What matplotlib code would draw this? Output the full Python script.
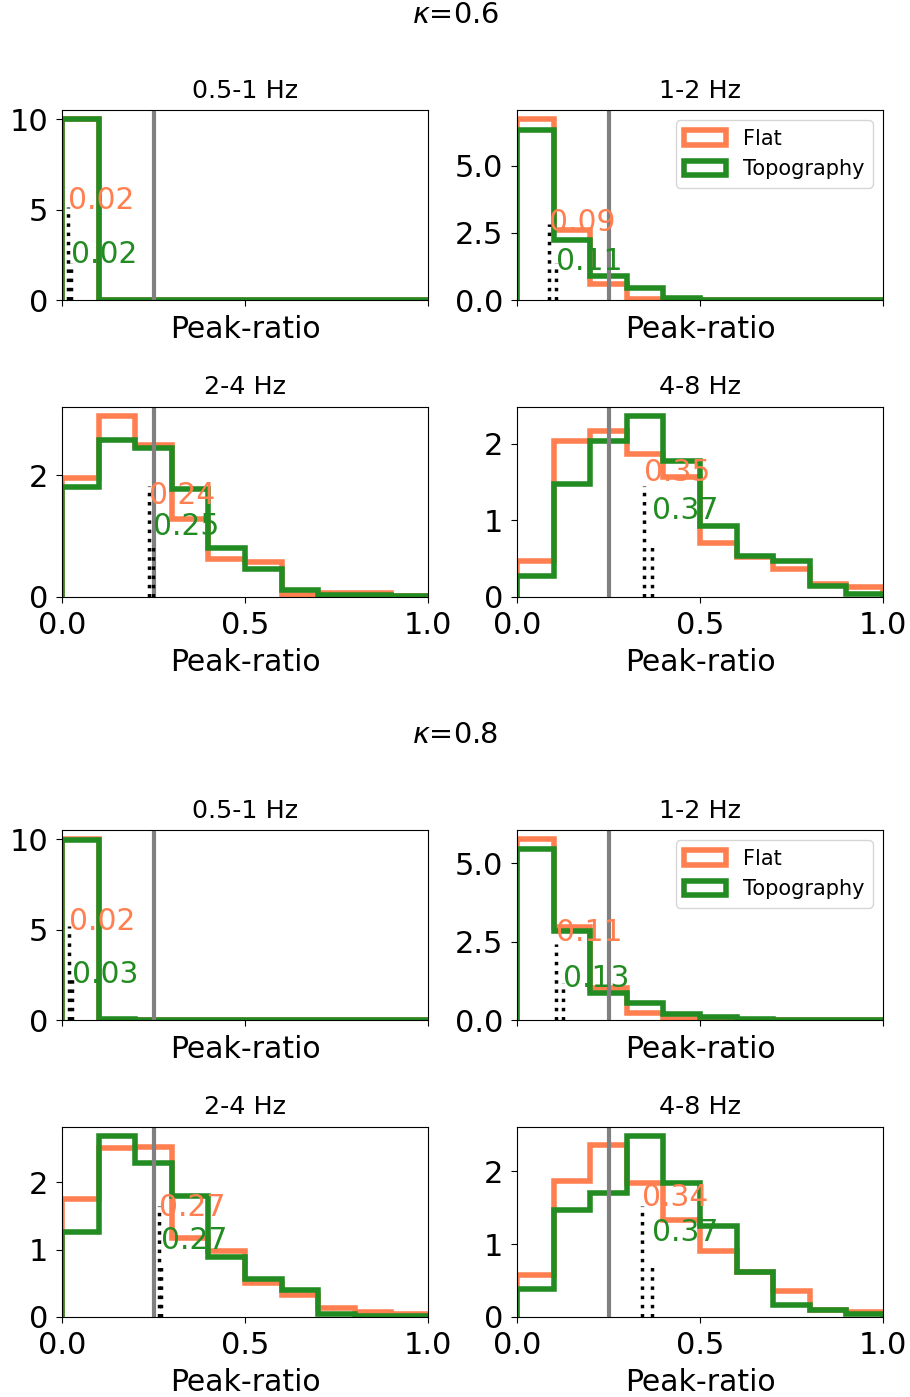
import numpy as np
import matplotlib.pyplot as plt

edges = np.linspace(0, 1, 11)
centers = 0.5 * (edges[:-1] + edges[1:])
bands = ['0.5-1 Hz', '1-2 Hz', '2-4 Hz', '4-8 Hz']
kappas = ['0.6', '0.8']

# peak-ratio density per 0.1 bin, one row per band
flat_k06 = [
    [10.0, 0, 0, 0, 0, 0, 0, 0, 0, 0],
    [6.75, 2.60, 0.60, 0.05, 0, 0, 0, 0, 0, 0],
    [1.95, 2.97, 2.49, 1.28, 0.62, 0.58, 0.03, 0.07, 0.07, 0.02],
    [0.47, 2.03, 2.16, 1.86, 1.57, 0.70, 0.52, 0.37, 0.17, 0.13],
]
topo_k06 = [
    [10.0, 0, 0, 0, 0, 0, 0, 0, 0, 0],
    [6.35, 2.25, 0.88, 0.43, 0.08, 0.01, 0.0, 0.0, 0.0, 0.0],
    [1.81, 2.58, 2.44, 1.77, 0.80, 0.46, 0.12, 0.04, 0.04, 0.02],
    [0.28, 1.47, 2.03, 2.36, 1.77, 0.93, 0.53, 0.47, 0.14, 0.04],
]
flat_k08 = [
    [10.0, 0, 0, 0, 0, 0, 0, 0, 0, 0],
    [5.77, 2.97, 1.01, 0.22, 0.03, 0, 0, 0, 0, 0],
    [1.76, 2.51, 2.53, 1.17, 0.98, 0.50, 0.33, 0.13, 0.08, 0.05],
    [0.57, 1.87, 2.36, 1.84, 1.33, 0.90, 0.61, 0.36, 0.10, 0.07],
]
topo_k08 = [
    [9.94, 0.04, 0.02, 0, 0, 0, 0, 0, 0, 0],
    [5.45, 2.84, 0.85, 0.53, 0.20, 0.08, 0.02, 0.01, 0.01, 0.01],
    [1.27, 2.69, 2.29, 1.80, 0.89, 0.57, 0.40, 0.05, 0.02, 0.02],
    [0.38, 1.47, 1.70, 2.48, 1.84, 1.25, 0.61, 0.17, 0.10, 0.04],
]

# medians of each distribution
med_flat_k06 = [0.016, 0.088, 0.238, 0.348]
med_topo_k06 = [0.024, 0.106, 0.248, 0.370]
med_flat_k08 = [0.019, 0.106, 0.266, 0.342]
med_topo_k08 = [0.028, 0.127, 0.270, 0.370]

# heights (axes fraction) of the median markers and their labels
line_top = {
    '0.6': [(0.49, 0.195), (0.40, 0.195), (0.584, 0.277), (0.584, 0.277)],
    '0.8': [(0.495, 0.242), (0.40, 0.195), (0.584, 0.277), (0.584, 0.277)],
}
label_y = {
    '0.6': [(0.526, 0.242), (0.41, 0.20), (0.535, 0.372), (0.656, 0.456)],
    '0.8': [(0.52, 0.242), (0.463, 0.216), (0.577, 0.403), (0.629, 0.445)],
}

data = {
    '0.6': (flat_k06, topo_k06, med_flat_k06, med_topo_k06),
    '0.8': (flat_k08, topo_k08, med_flat_k08, med_topo_k08),
}

c_flat = 'coral'
c_topo = 'forestgreen'

fig = plt.figure(figsize=(9.1, 13.97), dpi=100)
H = 1397.0
blocks = {'0.6': (110, 597, 15), '0.8': (830, 1317, 735)}

for k in kappas:
    top_px, bot_px, title_px = blocks[k]
    gs = fig.add_gridspec(2, 2, left=62 / 910, right=883 / 910,
                          top=1 - top_px / H, bottom=1 - bot_px / H,
                          hspace=107 / 190, wspace=89 / 366)
    fig.text(0.5, 1 - title_px / H, r'$\kappa$=' + k, ha='center', va='center',
             fontsize=20.7)
    flat, topo, mf, mt = data[k]
    for i, band in enumerate(bands):
        ax = fig.add_subplot(gs[i // 2, i % 2])
        ax.hist(centers, bins=edges, weights=flat[i], histtype='step',
                color=c_flat, lw=4, label='Flat')
        ax.hist(centers, bins=edges, weights=topo[i], histtype='step',
                color=c_topo, lw=4, label='Topography')
        ax.axvline(0.25, color='gray', lw=3)
        trans = ax.get_xaxis_transform()
        (lf, lt) = line_top[k][i]
        (tf, tt) = label_y[k][i]
        ax.plot([mf[i], mf[i]], [0, lf], transform=trans, color='k', ls=':', lw=2.5)
        ax.plot([mt[i], mt[i]], [0, lt], transform=trans, color='k', ls=':', lw=2.5)
        ax.text(mf[i], tf, f'{mf[i]:.2f}', transform=trans, color=c_flat,
                fontsize=21.4, ha='left', va='center')
        ax.text(mt[i], tt, f'{mt[i]:.2f}', transform=trans, color=c_topo,
                fontsize=21.4, ha='left', va='center')
        ax.set_xlim(0, 1)
        ax.set_xticks([0, 0.5, 1.0])
        ax.set_title(band, fontsize=18.3, pad=9)
        ax.set_xlabel('Peak-ratio', fontsize=21.5, labelpad=6)
        ax.tick_params(labelsize=22, length=4.5, pad=5.5)
        if i < 2:
            ax.tick_params(labelbottom=False)
        if i == 1:
            ax.legend(loc='upper right', fontsize=15)

fig.savefig('out.png', dpi=100)
